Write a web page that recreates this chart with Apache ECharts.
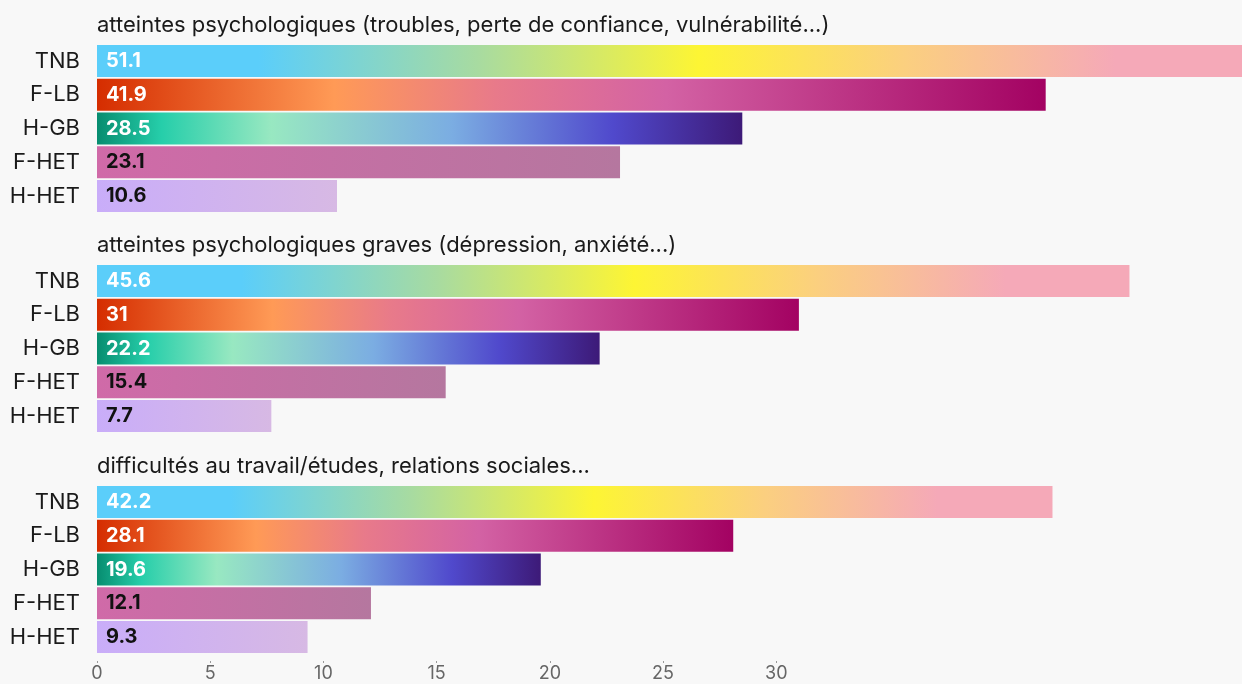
<!DOCTYPE html>
<html>
<head>
<meta charset="utf-8">
<script src="https://cdn.jsdelivr.net/npm/echarts@6/dist/echarts.min.js"></script>
<style>
html,body{margin:0;padding:0;background:#f8f8f8;}
#chart{width:1242px;height:684px;}
</style>
</head>
<body>
<div id="chart"></div>
<script>
const categories = ['TNB', 'F-LB', 'H-GB', 'F-HET', 'H-HET'];
const groupTitles = [
  'atteintes psychologiques (troubles, perte de confiance, vulnérabilité...)',
  'atteintes psychologiques graves (dépression, anxiété...)',
  'difficultés au travail/études, relations sociales...'
];
const psychologiques = [51.1, 41.9, 28.5, 23.1, 10.6];
const psychologiquesGraves = [45.6, 31, 22.2, 15.4, 7.7];
const difficultes = [42.2, 28.1, 19.6, 12.1, 9.3];
const tickValues = [0, 5, 10, 15, 20, 25, 30];

const groups = [psychologiques, psychologiquesGraves, difficultes];

const gradientStops = {
  'TNB': [[0, '#5bcefa'], [0.14, '#5bcefa'], [0.33, '#a8dba0'], [0.52, '#fdf534'], [0.7, '#fbcf80'], [0.88, '#f5a9b8'], [1, '#f5a9b8']],
  'F-LB': [[0, '#d52d00'], [0.25, '#ff9a56'], [0.42, '#e87a8a'], [0.6, '#d362a4'], [1, '#a30262']],
  'H-GB': [[0, '#078d70'], [0.1, '#26ceaa'], [0.27, '#98e8c1'], [0.55, '#7bade2'], [0.8, '#5049cc'], [1, '#3d1a78']],
  'F-HET': [[0, '#d06aa8'], [1, '#b5779f']],
  'H-HET': [[0, '#c9adf9'], [1, '#d7b9e4']]
};
const labelColors = {'TNB': '#ffffff', 'F-LB': '#ffffff', 'H-GB': '#ffffff', 'F-HET': '#111111', 'H-HET': '#111111'};

function grad(cat) {
  return {
    type: 'linear', x: 0, y: 0, x2: 1, y2: 0,
    colorStops: gradientStops[cat].map(s => ({offset: s[0], color: s[1]}))
  };
}

const FONT = 'Inter, "Liberation Sans", sans-serif';
const gridTops = [44, 264, 485];
const gridH = 169;
const xMax = 50.57;

const grids = [], xAxes = [], yAxes = [], series = [], graphics = [];
groups.forEach((vals, gi) => {
  grids.push({left: 97, right: 0, top: gridTops[gi], height: gridH, containLabel: false});
  const last = gi === groups.length - 1;
  xAxes.push({
    type: 'value', gridIndex: gi, min: 0, max: xMax,
    splitLine: {show: false},
    axisLine: {show: false},
    offset: 7,
    axisTick: {show: last, length: 2, lineStyle: {color: '#999'}, customValues: tickValues},
    axisLabel: {show: last, customValues: tickValues, color: '#666', fontSize: 18, fontFamily: FONT, margin: 4}
  });
  yAxes.push({
    type: 'category', gridIndex: gi, data: categories, inverse: true,
    axisLine: {show: false}, axisTick: {show: false},
    axisLabel: {color: '#1a1a1a', fontSize: 22, fontFamily: FONT, margin: 17}
  });
  series.push({
    type: 'bar', xAxisIndex: gi, yAxisIndex: gi, barWidth: 32, clip: false,
    data: vals.map((v, i) => ({
      value: v,
      itemStyle: {color: grad(categories[i])},
      label: {color: labelColors[categories[i]]}
    })),
    label: {show: true, position: 'insideLeft', distance: 9, fontSize: 20, fontWeight: 'bold', fontFamily: FONT},
    silent: true
  });
  graphics.push({
    type: 'text', left: 97, top: gridTops[gi] - 30,
    style: {text: groupTitles[gi], fill: '#1a1a1a', font: '22px ' + FONT}
  });
});

const chart = echarts.init(document.getElementById('chart'));
chart.setOption({
  backgroundColor: '#f8f8f8',
  animation: false,
  grid: grids,
  xAxis: xAxes,
  yAxis: yAxes,
  series: series,
  graphic: graphics
});
</script>
</body>
</html>
